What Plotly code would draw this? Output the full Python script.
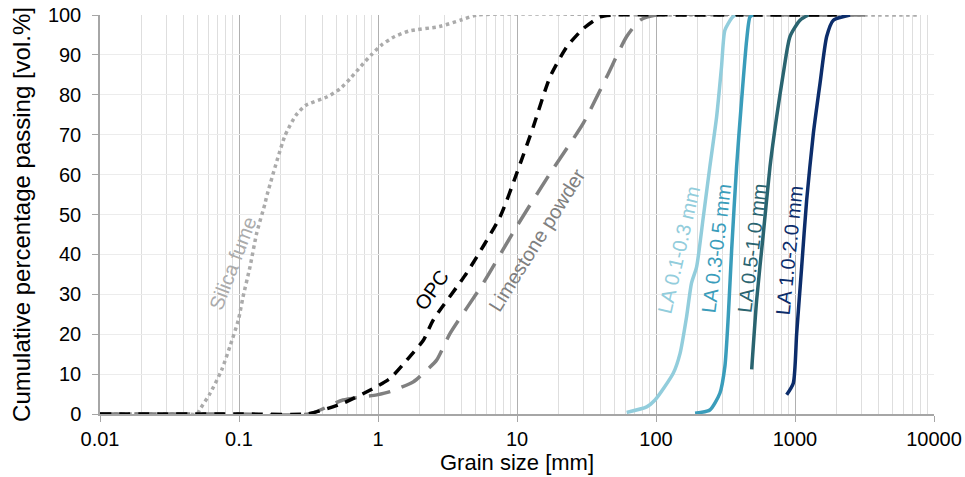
import math
import plotly.graph_objects as go

# Silica fume
sf_x = [0.01, 0.02, 0.04, 0.05, 0.052, 0.062, 0.075, 0.086, 0.099, 0.107, 0.12, 0.134, 0.154, 0.158, 0.214,
        0.256, 0.303, 0.432, 0.533, 0.64, 0.755, 0.90, 1.07, 1.32, 1.68, 2.76, 4.0, 5.2, 100, 1000, 7900]
sf_y = [0, 0, 0, 0, 1, 5.2, 11, 16.9, 23.6, 29.4, 36.9, 45.3, 52.8, 54.5, 69.7,
        74.8, 77.4, 79.5, 81.5, 84.3, 87.2, 90.1, 92.6, 94.6, 96, 97.1, 98.8, 100, 100, 100, 100]

# OPC
opc_x = [0.01, 0.1, 0.307, 0.4, 0.56, 0.925, 1.22, 1.61, 2.12, 2.5, 4.34, 7.55, 9.95, 13.1, 17.3, 22.8,
         30, 39.5, 50, 200, 2000]
opc_y = [0, 0, 0, 1.0, 2.7, 6.4, 8.9, 13.5, 18.5, 23.6, 35.3, 49.4, 60.3, 72, 84.5, 92,
         96.6, 99.5, 100, 100, 100]

# Limestone powder
ls_x = [0.01, 0.1, 0.32, 0.56, 0.98, 1.22, 1.8, 2.24, 2.64, 3.3, 5.72, 9.95, 17.3, 30, 44.2, 61.5,
        76.7, 100, 1000, 3600]
ls_y = [0, 0, 0, 3.5, 4.8, 5.6, 8.1, 11, 13.5, 20.2, 32.8, 47, 60.3, 72.9, 84.5, 94.6,
        98.7, 100, 100, 100]

# LA 0.1-0.3 mm
la1_x = [61.5, 85.7, 98.4, 133, 149, 166, 180, 196, 219, 244, 273, 296, 313, 350, 370]
la1_y = [0.4, 1.8, 3.5, 10.2, 15.2, 24.4, 32.8, 36.9, 49.4, 62, 74.5, 87, 96.2, 99.2, 100]

# LA 0.3-0.5 mm
la2_x = [191, 244, 288, 313, 331, 350, 380, 413, 449, 474, 500]
la2_y = [0.2, 1, 5.2, 11.9, 24.4, 41, 62, 78.7, 93.7, 99.5, 100]

# LA 0.5-1.0 mm
la3_x = [488, 530, 592, 661, 738, 824, 920, 1086, 1250]
la3_y = [11.2, 28.6, 45.3, 62, 74.5, 85.4, 94.6, 98.7, 100]

# LA 1.0-2.0 mm
la4_x = [871, 972, 1028, 1117, 1213, 1355, 1514, 1690, 1888, 2490]
la4_y = [4.8, 7.7, 20.2, 36.9, 53.6, 70.3, 82.9, 94.6, 98.7, 100]

x_tickvals = [0.01, 0.1, 1, 10, 100, 1000, 10000]
x_ticktext = ["0.01", "0.1", "1", "10", "100", "1000", "10000"]
y_tickvals = [0, 10, 20, 30, 40, 50, 60, 70, 80, 90, 100]

label_text = ["Silica fume", "OPC", "Limestone powder", "LA 0.1-0.3 mm", "LA 0.3-0.5 mm", "LA 0.5-1.0 mm", "LA 1.0-2.0 mm"]
label_x = [0.0906, 2.43, 13.9, 146, 272, 492, 910]
label_y = [37.8, 31.1, 43.6, 41.1, 41.6, 41.6, 41.1]
label_angle = [-69, -55, -58, -77, -83, -83, -84]
colors = ["#ababab", "#000000", "#808080", "#92cddc", "#3a9dbb", "#2a6470", "#0c2d6b"]

minor_vals = [m * 10 ** e for e in range(-2, 4) for m in range(2, 10)]
FONT = "Liberation Sans, Arial, sans-serif"

fig = go.Figure()
fig.add_trace(go.Scatter(x=sf_x, y=sf_y, mode="lines", line=dict(color=colors[0], width=3.5, dash="dot", shape="spline", smoothing=0.6)))
fig.add_trace(go.Scatter(x=ls_x, y=ls_y, mode="lines", line=dict(color=colors[2], width=3.5, dash="22px,12px", shape="spline", smoothing=0.6)))
fig.add_trace(go.Scatter(x=opc_x, y=opc_y, mode="lines", line=dict(color=colors[1], width=3.5, dash="11px,8px", shape="spline", smoothing=0.6)))
fig.add_trace(go.Scatter(x=la1_x, y=la1_y, mode="lines", line=dict(color=colors[3], width=3.5, shape="spline", smoothing=0.6)))
fig.add_trace(go.Scatter(x=la2_x, y=la2_y, mode="lines", line=dict(color=colors[4], width=3.5, shape="spline", smoothing=0.6)))
fig.add_trace(go.Scatter(x=la3_x, y=la3_y, mode="lines", line=dict(color=colors[5], width=3.5, shape="spline", smoothing=0.6)))
fig.add_trace(go.Scatter(x=la4_x, y=la4_y, mode="lines", line=dict(color=colors[6], width=3.5, shape="spline", smoothing=0.6)))

for text, lx, ly, ang, col in zip(label_text, label_x, label_y, label_angle, colors):
    fig.add_annotation(x=math.log10(lx), y=ly, text=text, showarrow=False, textangle=ang,
                       font=dict(size=20, color=col, family=FONT))

fig.update_layout(
    width=965, height=477,
    margin=dict(l=100, r=31, t=15, b=63),
    paper_bgcolor="white", plot_bgcolor="white",
    showlegend=False,
    font=dict(family=FONT, size=20, color="#000000"),
)
fig.update_xaxes(
    type="log", range=[-2, 4], automargin=False,
    tickvals=x_tickvals, ticktext=x_ticktext, ticklabeloverflow="allow",
    showgrid=True, gridcolor="#b0b0b0", gridwidth=1,
    minor=dict(tickvals=minor_vals, showgrid=True, gridcolor="#dedede", gridwidth=1, ticks=""),
    showline=True, linecolor="#a6a6a6", linewidth=1.5,
    ticks="outside", ticklen=6, tickcolor="#a6a6a6",
    tickfont=dict(size=20),
    title=dict(text="Grain size [mm]", font=dict(size=22), standoff=2),
    zeroline=False,
)
fig.update_yaxes(
    range=[0, 100], tickvals=y_tickvals, automargin=False, ticklabeloverflow="allow",
    showgrid=True, gridcolor="#ececec", gridwidth=1,
    showline=True, linecolor="#a6a6a6", linewidth=1.5,
    ticks="outside", ticklen=6, tickcolor="#a6a6a6",
    tickfont=dict(size=20), ticklabelstandoff=7,
    title=dict(text="Cumulative percentage passing [vol.%]", font=dict(size=24), standoff=10),
    zeroline=False,
)

# remove the page's default body margin so the figure fills the window exactly
fig.write_html("out.html", config={"displayModeBar": False},
               post_script="document.body.style.margin='0';")
